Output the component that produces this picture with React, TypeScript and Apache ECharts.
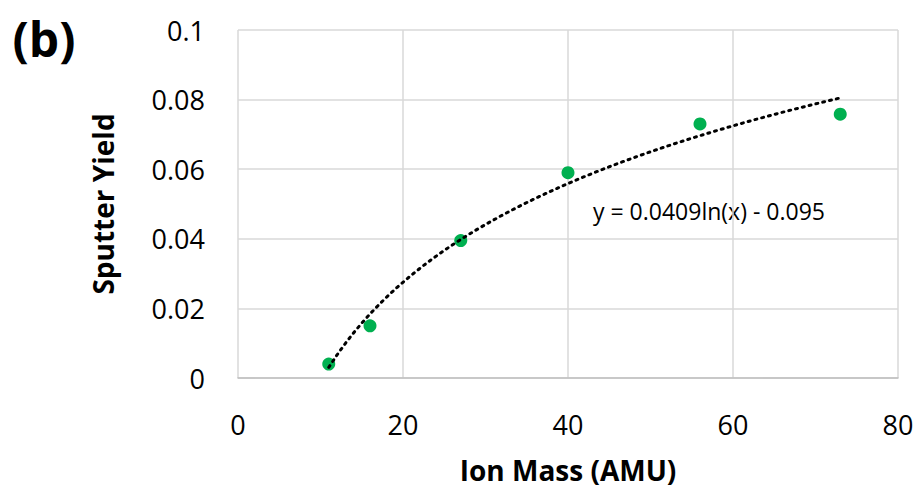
import React, { useEffect, useRef } from "react";
import * as echarts from "echarts";

const ionMass = [11, 16, 27, 40, 56, 73];
const sputterYield = [0.004, 0.015, 0.0395, 0.059, 0.073, 0.0758];
const trendCoefA = 0.0409;
const trendCoefB = -0.095;
const trendLabel = "y = 0.0409ln(x) - 0.095";
const xTicks = [0, 20, 40, 60, 80];
const yTicks = [0, 0.02, 0.04, 0.06, 0.08, 0.1];

export default function App() {
  const ref = useRef<HTMLDivElement>(null);
  useEffect(() => {
    document.body.style.margin = "0";
    const chart = echarts.init(ref.current!, null, { renderer: "svg" });
    const xMin = ionMass[0];
    const xMax = ionMass[ionMass.length - 1];
    const trend: number[][] = [];
    const steps = 60;
    for (let i = 0; i <= steps; i++) {
      const x = xMin + ((xMax - xMin) * i) / steps;
      trend.push([x, trendCoefA * Math.log(x) + trendCoefB]);
    }
    const font = "'Open Sans', sans-serif";
    chart.setOption({
      animation: false,
      backgroundColor: "#ffffff",
      grid: { left: 238, right: 21, top: 30, bottom: 115 },
      xAxis: {
        type: "value",
        min: xTicks[0],
        max: xTicks[xTicks.length - 1],
        interval: 20,
        name: "Ion Mass (AMU)",
        nameLocation: "middle",
        nameGap: 78,
        nameTextStyle: { fontFamily: font, fontWeight: "bold", fontSize: 28, color: "#000" },
        axisLine: { show: true, lineStyle: { color: "#bfbfbf", width: 1.5 } },
        axisTick: { show: false },
        axisLabel: { fontFamily: font, fontSize: 27, color: "#000", margin: 33 },
        splitLine: { show: true, lineStyle: { color: "#d9d9d9", width: 1.5 } },
      },
      yAxis: {
        type: "value",
        min: yTicks[0],
        max: yTicks[yTicks.length - 1],
        interval: 0.02,
        name: "Sputter Yield",
        nameLocation: "middle",
        nameGap: 121,
        nameTextStyle: { fontFamily: font, fontWeight: "bold", fontSize: 28, color: "#000" },
        axisLine: { show: false },
        axisTick: { show: false },
        axisLabel: {
          fontFamily: font,
          fontSize: 27,
          color: "#000",
          margin: 33,
          formatter: (v: number) => String(parseFloat(v.toFixed(2))),
        },
        splitLine: { show: true, lineStyle: { color: "#d9d9d9", width: 1.5 } },
      },
      graphic: [
        {
          type: "text",
          x: 44,
          y: 38,
          style: {
            text: "(b)",
            fontFamily: font,
            fontWeight: "bold",
            fontSize: 48,
            fill: "#000",
            align: "center",
            verticalAlign: "middle",
          },
        },
        {
          type: "text",
          left: 593,
          top: 199,
          style: { text: trendLabel, fontFamily: font, fontSize: 23, fill: "#000" },
        },
      ],
      series: [
        {
          type: "line",
          data: trend,
          showSymbol: false,
          symbol: "none",
          smooth: false,
          lineStyle: { color: "#000", width: 3, type: [2, 5], cap: "round" },
          z: 3,
        },
        {
          type: "scatter",
          data: ionMass.map((x, i) => [x, sputterYield[i]]),
          symbol: "circle",
          symbolSize: 13,
          itemStyle: { color: "#00b050", opacity: 1 },
          z: 2,
        },
      ],
    });
    return () => chart.dispose();
  }, []);
  return <div ref={ref} style={{ width: 919, height: 493 }} />;
}
